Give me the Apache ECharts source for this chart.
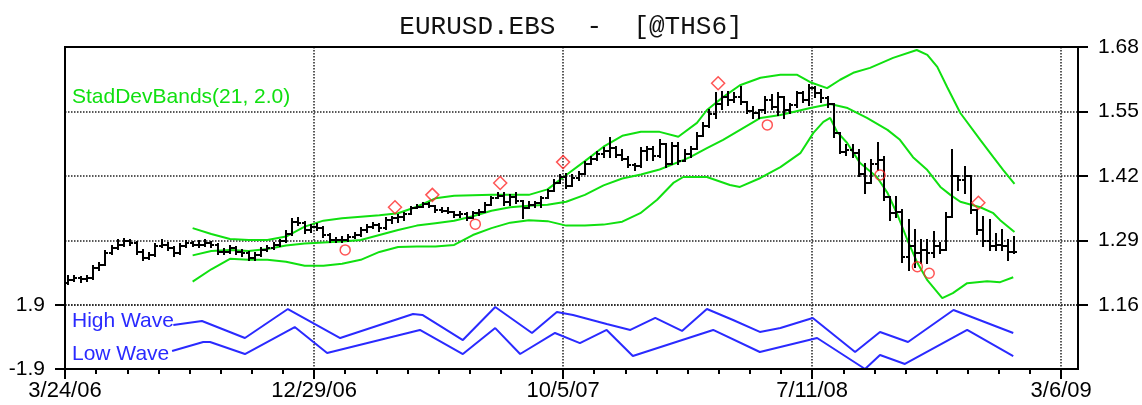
<!DOCTYPE html>
<html><head><meta charset="utf-8">
<script src="https://cdn.jsdelivr.net/npm/echarts@6/dist/echarts.min.js"></script>
<style>html,body{margin:0;padding:0;background:#fff}#c{width:1142px;height:405px}</style>
</head><body><div id="c"></div>
<script>
// ---- data (weekly bars, index 0 = week of 3/24/06) ----
const xTickValues = [0, 40, 80, 120, 160];
const xTickLabels = ['3/24/06', '12/29/06', '10/5/07', '7/11/08', '3/6/09'];
const titleText = 'EURUSD.EBS  -  [@THS6]';

const openP = [1.205,1.210,1.214,1.212,1.214,1.234,1.241,1.264,1.274,1.281,1.288,1.284,1.267,1.254,1.261,1.278,1.281,1.274,1.264,1.278,
1.284,1.281,1.281,1.284,1.281,1.267,1.267,1.274,1.267,1.264,1.254,1.261,1.271,1.274,1.281,1.288,1.304,1.328,1.325,1.311,
1.318,1.315,1.301,1.291,1.291,1.292,1.298,1.301,1.311,1.318,1.321,1.315,1.331,1.335,1.338,1.343,1.355,1.358,1.363,1.360,
1.352,1.350,1.347,1.341,1.343,1.336,1.345,1.348,1.361,1.375,1.380,1.368,1.378,1.370,1.355,1.362,1.365,1.375,1.390,1.405,
1.418,1.400,1.415,1.425,1.445,1.455,1.465,1.470,1.476,1.462,1.455,1.442,1.440,1.470,1.475,1.460,1.485,1.445,1.480,1.450,
1.465,1.475,1.500,1.520,1.545,1.566,1.580,1.573,1.580,1.570,1.550,1.546,1.553,1.573,1.560,1.580,1.553,1.563,1.587,1.573,
1.597,1.587,1.577,1.566,1.506,1.469,1.472,1.466,1.425,1.405,1.445,1.452,1.378,1.345,1.348,1.257,1.278,1.264,1.271,1.264,
1.278,1.271,1.338,1.419,1.412,1.419,1.351,1.311,1.288,1.278,1.281,1.278,1.267];
const highP = [1.218,1.218,1.216,1.218,1.238,1.245,1.268,1.278,1.290,1.293,1.292,1.286,1.270,1.264,1.282,1.291,1.284,1.277,1.282,1.289,
1.287,1.288,1.290,1.287,1.283,1.272,1.279,1.277,1.270,1.266,1.265,1.275,1.278,1.285,1.292,1.310,1.334,1.335,1.327,1.322,
1.323,1.317,1.304,1.296,1.297,1.302,1.306,1.315,1.322,1.326,1.324,1.336,1.338,1.341,1.345,1.358,1.361,1.365,1.366,1.360,
1.355,1.355,1.348,1.348,1.345,1.348,1.351,1.365,1.378,1.385,1.385,1.382,1.385,1.370,1.368,1.368,1.378,1.392,1.412,1.422,
1.425,1.422,1.429,1.449,1.459,1.469,1.476,1.496,1.479,1.472,1.459,1.445,1.476,1.479,1.479,1.493,1.485,1.486,1.486,1.472,
1.479,1.506,1.526,1.553,1.587,1.590,1.590,1.587,1.600,1.570,1.560,1.553,1.580,1.583,1.587,1.580,1.566,1.590,1.590,1.603,
1.600,1.593,1.580,1.566,1.506,1.482,1.482,1.472,1.445,1.452,1.486,1.459,1.378,1.378,1.351,1.331,1.311,1.291,1.291,1.308,
1.285,1.345,1.472,1.419,1.439,1.419,1.351,1.338,1.331,1.304,1.311,1.291,1.298];
const lowP = [1.203,1.208,1.207,1.209,1.212,1.230,1.240,1.262,1.272,1.279,1.280,1.263,1.251,1.252,1.259,1.276,1.271,1.258,1.262,1.276,
1.278,1.277,1.279,1.276,1.263,1.263,1.265,1.263,1.259,1.250,1.251,1.259,1.268,1.272,1.279,1.286,1.302,1.321,1.306,1.308,
1.311,1.297,1.287,1.287,1.286,1.289,1.295,1.299,1.308,1.315,1.310,1.313,1.325,1.328,1.331,1.343,1.355,1.358,1.358,1.348,
1.348,1.345,1.338,1.338,1.331,1.336,1.341,1.348,1.361,1.375,1.361,1.361,1.365,1.335,1.355,1.358,1.358,1.375,1.390,1.405,
1.395,1.400,1.412,1.425,1.445,1.452,1.459,1.459,1.459,1.452,1.439,1.432,1.439,1.452,1.452,1.459,1.439,1.445,1.445,1.450,
1.459,1.475,1.500,1.519,1.536,1.556,1.563,1.570,1.566,1.546,1.536,1.536,1.546,1.556,1.543,1.536,1.546,1.560,1.570,1.563,
1.580,1.570,1.560,1.499,1.466,1.462,1.459,1.419,1.385,1.405,1.432,1.372,1.331,1.338,1.247,1.230,1.237,1.244,1.244,1.257,
1.264,1.271,1.338,1.392,1.385,1.345,1.304,1.278,1.271,1.271,1.271,1.251,1.264];
const closeP = [1.210,1.214,1.212,1.214,1.234,1.241,1.264,1.274,1.281,1.288,1.284,1.267,1.254,1.261,1.278,1.281,1.274,1.264,1.278,1.284,
1.281,1.281,1.284,1.281,1.267,1.267,1.274,1.267,1.264,1.254,1.261,1.271,1.274,1.281,1.288,1.304,1.328,1.325,1.311,1.318,
1.315,1.301,1.291,1.291,1.292,1.298,1.301,1.311,1.318,1.321,1.315,1.331,1.335,1.338,1.343,1.355,1.358,1.363,1.360,1.352,
1.350,1.347,1.341,1.343,1.336,1.345,1.348,1.361,1.375,1.380,1.368,1.378,1.370,1.355,1.362,1.365,1.375,1.390,1.405,1.418,
1.400,1.415,1.425,1.445,1.455,1.465,1.470,1.476,1.462,1.455,1.442,1.440,1.470,1.475,1.460,1.485,1.445,1.480,1.450,1.465,
1.475,1.500,1.520,1.545,1.566,1.580,1.573,1.580,1.570,1.550,1.546,1.553,1.573,1.560,1.580,1.553,1.563,1.587,1.573,1.597,
1.587,1.577,1.566,1.506,1.469,1.472,1.466,1.425,1.405,1.445,1.452,1.378,1.345,1.348,1.257,1.278,1.264,1.271,1.264,1.278,
1.271,1.338,1.419,1.412,1.419,1.351,1.311,1.288,1.278,1.281,1.278,1.267,1.267];

// StdDev bands (bar index, value)
const upperBand = [[20,1.315],[23,1.303],[26,1.293],[29,1.291],[32,1.291],[35,1.298],[38,1.318],[41,1.330],[44,1.335],[47,1.338],[50,1.341],[53,1.345],[56,1.358],[59,1.375],[62,1.380],[65,1.381],[68,1.382],[71,1.382],[74,1.382],[77,1.393],[80,1.422],[83,1.450],[86,1.479],[89,1.501],[92,1.509],[95,1.509],[98,1.499],[101,1.527],[102.6,1.553],[105.2,1.579],[107.9,1.603],[111.2,1.618],[114.4,1.624],[117.1,1.624],[119.2,1.609],[121.9,1.597],[124,1.614],[126.1,1.628],[128.8,1.638],[132.5,1.658],[136.3,1.674],[138,1.664],[139.6,1.640],[141.2,1.599],[143.3,1.547],[146.5,1.493],[148.6,1.458],[150.2,1.432],[152,1.404]];
const midBand = [[20,1.260],[23,1.269],[26,1.271],[29,1.269],[32,1.273],[35,1.280],[38,1.284],[41,1.286],[44,1.288],[47,1.291],[50,1.301],[53,1.311],[56,1.320],[59,1.325],[62,1.330],[65,1.339],[68,1.350],[71,1.357],[74,1.360],[77,1.362],[80,1.368],[83,1.382],[86,1.401],[89,1.415],[92,1.423],[95,1.433],[98,1.448],[99.9,1.458],[102.6,1.476],[105.2,1.493],[111.2,1.537],[114.4,1.543],[119.2,1.557],[122.4,1.565],[125.2,1.557],[128.3,1.537],[131.6,1.513],[133.6,1.493],[135.7,1.458],[138,1.432],[140.1,1.398],[141.7,1.382],[143.3,1.368],[146.5,1.357],[148.6,1.345],[149.7,1.331],[152,1.307]];
const lowerBand = [[20,1.207],[23,1.232],[26,1.253],[29,1.251],[32,1.251],[35,1.247],[38,1.239],[41,1.239],[44,1.243],[47,1.251],[50,1.267],[53,1.277],[56,1.278],[59,1.278],[62,1.281],[65,1.301],[68,1.315],[71,1.326],[74,1.331],[77,1.329],[80,1.320],[83,1.320],[86,1.322],[89,1.328],[91.9,1.345],[94.6,1.372],[97.2,1.406],[98.8,1.418],[102.6,1.418],[106.3,1.402],[107.9,1.398],[111.2,1.416],[114.4,1.438],[117.6,1.466],[119.7,1.507],[121.3,1.529],[122.4,1.537],[123.5,1.509],[125.1,1.487],[127.2,1.446],[129.9,1.418],[131.6,1.386],[133.1,1.345],[134.8,1.291],[136.4,1.245],[138,1.210],[140.4,1.174],[142.1,1.184],[144.4,1.204],[147.6,1.208],[149.7,1.206],[151.8,1.216]];

// Wave oscillator (bar index, value)
const highWave = [[16.9,0.71],[21.5,0.95],[28.4,-0.06],[35.3,1.66],[43.7,-0.06],[55.4,1.37],[56.9,1.31],[63.4,-0.18],[68.6,1.78],[74.5,0.24],[78.5,1.48],[81.1,1.31],[86.5,0.77],[90.3,0.42],[94.3,1.13],[98.6,0.36],[102.6,1.66],[106.8,1.01],[111.1,0.30],[114.4,0.53],[119.6,1.13],[126.4,-0.89],[130.4,0.30],[134.9,-0.30],[142.2,1.60],[151.8,0.24]];
const lowWave = [[16.7,-0.83],[21.7,-0.30],[22.8,-0.30],[28.4,-1.01],[36.4,0.59],[41.6,-0.95],[56.5,0.42],[63.4,-1.01],[68.6,0.53],[72.6,-1.01],[78.2,0.24],[82.2,-0.36],[86.5,0.42],[90.7,-1.13],[103.6,0.42],[111.1,-0.89],[120.3,-0.06],[128,-1.9],[130.4,-1.07],[134.4,-1.60],[144.4,0.42],[151.8,-1.13]];

// signal markers (bar index, value)
const diamondMarks = [[52.5,1.357],[58.5,1.382],[69.4,1.406],[79.5,1.448],[104.4,1.607],[146.2,1.366]];
const circleMarks = [[44.5,1.271],[65.4,1.323],[112.3,1.523],[130.4,1.422],[136.4,1.237],[138.3,1.224]];

// ---- build ----
const pos = i => i + 0.5;
const bars = closeP.map((c, i) => [pos(i), openP[i], highP[i], lowP[i], c]);
const pts = arr => arr.map(p => [pos(p[0]), p[1]]);
const minorTickValues = [];
for (let v = 5; v < 160; v += 5) if (v % 40 !== 0) minorTickValues.push(v);

const GREEN = '#10e010', BLUE = '#2a2aff', RED = '#ff2a2a';
const dotted = { color: '#222', width: 1.5, type: [1.5, 1.5] };
const lblFont = { fontFamily: 'Liberation Sans, Arial, sans-serif', color: '#000' };
const FONT = 'Liberation Sans, Arial, sans-serif';

const chart = echarts.init(document.getElementById('c'), null, { renderer: 'canvas' });
chart.setOption({
  animation: false,
  backgroundColor: '#fff',
  title: {
    text: titleText, left: 'center', top: 9,
    textStyle: { fontFamily: 'Liberation Mono, Courier New, monospace', fontSize: 26, fontWeight: 'normal', color: '#111' }
  },
  grid: [
    { left: 65, top: 47, width: 1013, height: 258, outerBoundsMode: 'none', containLabel: false },
    { left: 65, top: 305, width: 1013, height: 64, outerBoundsMode: 'none', containLabel: false }
  ],
  xAxis: [
    { type: 'value', gridIndex: 0, position: 'bottom', min: 0, max: 162.7, interval: 40,
      axisLine: { show: false, onZero: false }, axisTick: { show: false }, axisLabel: { show: false },
      splitLine: { show: true, lineStyle: dotted } },
    { type: 'value', gridIndex: 1, position: 'bottom', min: 0, max: 162.7, interval: 40,
      axisLine: { show: true, onZero: false, lineStyle: { color: '#000', width: 2 } },
      axisTick: { show: true, length: 10, customValues: xTickValues, lineStyle: { color: '#000', width: 2 } },
      axisLabel: { show: true, customValues: xTickValues, margin: 11, fontSize: 22, ...lblFont,
        formatter: v => { const k = xTickValues.indexOf(Math.round(v)); return k >= 0 ? xTickLabels[k] : ''; } },
      splitLine: { show: true, lineStyle: dotted } },
    { type: 'value', gridIndex: 1, position: 'bottom', min: 0, max: 162.7,
      axisLine: { show: false, onZero: false },
      axisTick: { show: true, length: 5, customValues: minorTickValues, lineStyle: { color: '#000', width: 2 } },
      axisLabel: { show: false }, splitLine: { show: false } }
  ],
  yAxis: [
    { type: 'value', gridIndex: 0, position: 'right', min: 1.16, max: 1.68, interval: 0.13,
      axisLine: { show: true, onZero: false, lineStyle: { color: '#000', width: 2 } },
      axisTick: { show: true, length: 10, lineStyle: { color: '#000', width: 2 } },
      axisLabel: { show: true, margin: 20, fontSize: 21, ...lblFont, formatter: v => v.toFixed(2) },
      splitLine: { show: true, lineStyle: dotted } },
    { type: 'value', gridIndex: 1, position: 'left', min: -1.9, max: 1.9, interval: 3.8,
      axisLine: { show: true, onZero: false, lineStyle: { color: '#000', width: 2 } },
      axisTick: { show: true, length: 10, lineStyle: { color: '#000', width: 2 } },
      axisLabel: { show: true, margin: 20, fontSize: 21, ...lblFont, formatter: v => v.toFixed(1) },
      splitLine: { show: true, lineStyle: dotted } }
  ],
  graphic: [
    { type: 'rect', z: 100, silent: true, shape: { x: 65, y: 47, width: 1013, height: 322 },
      style: { fill: 'none', stroke: '#000', lineWidth: 2 } },
    { type: 'text', z: 101, left: 72, top: 87, style: { text: 'StadDevBands(21, 2.0)', fill: GREEN, fontSize: 21, fontFamily: FONT } },
    { type: 'text', z: 101, left: 72, top: 311, style: { text: 'High Wave', fill: BLUE, fontSize: 21, fontFamily: FONT } },
    { type: 'text', z: 101, left: 72, top: 344, style: { text: 'Low Wave', fill: BLUE, fontSize: 21, fontFamily: FONT } }
  ],
  series: [
    { name: 'Upper', type: 'line', xAxisIndex: 0, yAxisIndex: 0, data: pts(upperBand), showSymbol: false, silent: true, lineStyle: { color: GREEN, width: 2 }, z: 2 },
    { name: 'Mid', type: 'line', xAxisIndex: 0, yAxisIndex: 0, data: pts(midBand), showSymbol: false, silent: true, lineStyle: { color: GREEN, width: 2 }, z: 2 },
    { name: 'Lower', type: 'line', xAxisIndex: 0, yAxisIndex: 0, data: pts(lowerBand), showSymbol: false, silent: true, lineStyle: { color: GREEN, width: 2 }, z: 2 },
    { name: 'Price', type: 'custom', xAxisIndex: 0, yAxisIndex: 0, data: bars, encode: { x: 0, y: [1, 2, 3, 4] }, z: 3,
      renderItem: function (params, api) {
        const x = api.value(0);
        const pO = api.coord([x, api.value(1)]), pH = api.coord([x, api.value(2)]);
        const pL = api.coord([x, api.value(3)]), pC = api.coord([x, api.value(4)]);
        const cx = Math.round(pH[0]);
        const st = { stroke: '#000', lineWidth: 2 };
        return { type: 'group', children: [
          { type: 'line', shape: { x1: cx, y1: Math.round(pH[1]) - 1, x2: cx, y2: Math.round(pL[1]) + 1 }, style: st },
          { type: 'line', shape: { x1: cx - 3, y1: Math.round(pO[1]), x2: cx, y2: Math.round(pO[1]) }, style: st },
          { type: 'line', shape: { x1: cx, y1: Math.round(pC[1]), x2: cx + 3, y2: Math.round(pC[1]) }, style: st }
        ] };
      } },
    { name: 'Peaks', type: 'scatter', xAxisIndex: 0, yAxisIndex: 0, data: pts(diamondMarks), symbol: 'diamond', symbolSize: 13, z: 4,
      itemStyle: { color: 'rgba(255,255,255,0)', borderColor: RED, borderWidth: 1.5 } },
    { name: 'Troughs', type: 'scatter', xAxisIndex: 0, yAxisIndex: 0, data: pts(circleMarks), symbol: 'circle', symbolSize: 10, z: 4,
      itemStyle: { color: 'rgba(255,255,255,0)', borderColor: RED, borderWidth: 1.5 } },
    { name: 'High Wave', type: 'line', xAxisIndex: 1, yAxisIndex: 1, data: pts(highWave), showSymbol: false, silent: true, lineStyle: { color: BLUE, width: 2 } },
    { name: 'Low Wave', type: 'line', xAxisIndex: 1, yAxisIndex: 1, data: pts(lowWave), showSymbol: false, silent: true, lineStyle: { color: BLUE, width: 2 } }
  ]
});
</script>
</body></html>
